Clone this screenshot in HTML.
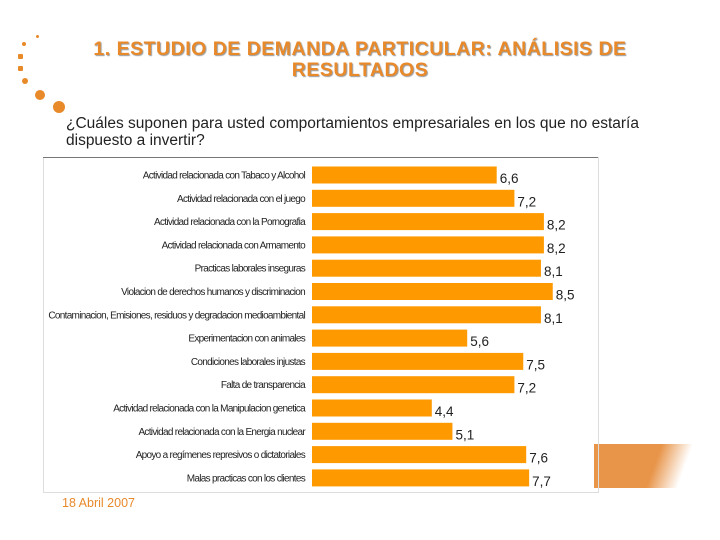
<!DOCTYPE html>
<html><head><meta charset="utf-8"><style>
body{margin:0;width:720px;height:540px;background:#fff;position:relative;overflow:hidden;font-family:"Liberation Sans",sans-serif}
.t{position:absolute;left:40px;width:640px;text-align:center;color:#e8892a;font-weight:bold;font-size:19.5px;line-height:21px;top:39px;text-shadow:1px 1px 1px #999;letter-spacing:0.5px}
.q{position:absolute;left:66px;top:115px;font-size:15.5px;line-height:17px;color:#222}
.d{position:absolute;left:62px;top:496px;font-size:12.5px;color:#e8892a}
.dot{position:absolute;background:#e8892a;border-radius:50%}
</style></head><body>
<div class="dot" style="left:36px;top:35px;width:3px;height:3px"></div>
<div class="dot" style="left:22px;top:42px;width:4px;height:4px"></div>
<div class="dot" style="left:18px;top:54px;width:5px;height:5px;border-radius:1px"></div>
<div class="dot" style="left:18px;top:66px;width:5px;height:5px;border-radius:1px"></div>
<div class="dot" style="left:22px;top:78px;width:6px;height:6px"></div>
<div class="dot" style="left:35px;top:90px;width:10px;height:10px"></div>
<div class="dot" style="left:53px;top:101px;width:12px;height:12px"></div>
<div class="t">1. ESTUDIO DE DEMANDA PARTICULAR: ANÁLISIS DE<br>RESULTADOS</div>
<div class="q">¿Cuáles suponen para usted comportamientos empresariales en los que no estaría<br>dispuesto a invertir?</div>
<div style="position:absolute;left:594px;top:444px;width:108px;height:44px;background:linear-gradient(110deg,#e8954a 0%,#e8954a 55%,rgba(255,255,255,0) 80%)"></div>
<svg id="chart" width="720" height="540" style="position:absolute;left:0;top:0">
<rect x="43.5" y="157.5" width="555" height="335" fill="none" stroke="#ddd"/>
<line x1="43" y1="157.5" x2="598" y2="157.5" stroke="#777"/>
</svg>
<div class="d">18 Abril 2007</div>
<script>
const categories=["Actividad relacionada con Tabaco y Alcohol","Actividad relacionada con el juego","Actividad relacionada con la Pornografia","Actividad relacionada con Armamento","Practicas laborales inseguras","Violacion de derechos humanos y discriminacion","Contaminacion, Emisiones, residuos y degradacion medioambiental","Experimentacion con animales","Condiciones laborales injustas","Falta de transparencia","Actividad relacionada con la Manipulacion genetica","Actividad relacionada con la Energia nuclear","Apoyo a regímenes represivos o dictatoriales","Malas practicas con los clientes"];
const values=[6.6,7.2,8.2,8.2,8.1,8.5,8.1,5.6,7.5,7.2,4.4,5.1,7.6,7.7];
const valueLabels=["6,6","7,2","8,2","8,2","8,1","8,5","8,1","5,6","7,5","7,2","4,4","5,1","7,6","7,7"];
const svg=document.getElementById('chart');
const NS='http://www.w3.org/2000/svg';
const x=v=>302+v*29.5;
const y=i=>175+i*23.3;
categories.forEach((c,i)=>{
  const r=document.createElementNS(NS,'rect');
  
  
  r.setAttribute('x',312);r.setAttribute('y',y(i)-8.5);
  r.setAttribute('width',x(values[i])-312);r.setAttribute('height',17);
  r.setAttribute('fill','#ff9900');svg.appendChild(r);
  const l=document.createElementNS(NS,'text');
  
  
  l.setAttribute('x',305);l.setAttribute('y',y(i)+3.5);
  l.setAttribute('text-anchor','end');l.setAttribute('font-size','10');
  l.setAttribute('letter-spacing','-0.7');l.setAttribute('fill','#222');
  l.textContent=c;svg.appendChild(l);
  const v=document.createElementNS(NS,'text');
  
  
  v.setAttribute('x',x(values[i])+3);v.setAttribute('y',y(i)+8);
  v.setAttribute('font-size','13.5');v.setAttribute('fill','#222');
  v.textContent=valueLabels[i];svg.appendChild(v);
});
</script>
</body></html>
